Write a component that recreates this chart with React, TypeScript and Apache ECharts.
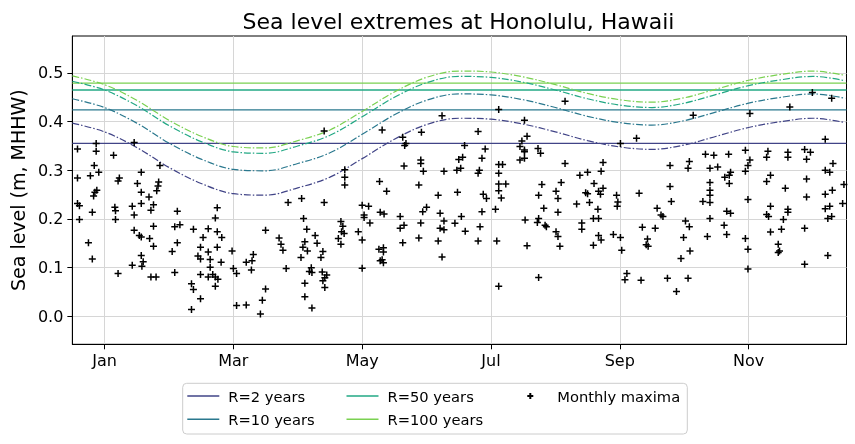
import { useEffect, useRef } from 'react';
import * as echarts from 'echarts';

// x is measured in months from mid-January (Jan tick = 0)
const monthLabels = ['Jan', 'Mar', 'May', 'Jul', 'Sep', 'Nov'];
const monthTicks = [0, 2, 4, 6, 8, 10];
const valueTicks = [0, 0.1, 0.2, 0.3, 0.4, 0.5];
const xExtent = [-0.5, 11.52];

const returnPeriods = ['R=2 years', 'R=10 years', 'R=50 years', 'R=100 years'];
const returnLevels = [0.3555, 0.424, 0.465, 0.479];

const curveX = [-0.5, 0, 0.5, 1, 1.5, 2, 2.5, 3, 3.5, 4, 4.5, 5, 5.5, 6, 6.5, 7, 7.5, 8, 8.5, 9, 9.5, 10, 10.5, 11, 11.5];
const seasonalR2 = [0.397, 0.379, 0.347, 0.306, 0.273, 0.252, 0.249, 0.264, 0.286, 0.324, 0.364, 0.394, 0.407, 0.405, 0.395, 0.379, 0.361, 0.348, 0.343, 0.352, 0.370, 0.388, 0.400, 0.407, 0.398];
const seasonalR10 = [0.447, 0.429, 0.397, 0.356, 0.323, 0.302, 0.299, 0.314, 0.336, 0.374, 0.414, 0.444, 0.457, 0.455, 0.445, 0.429, 0.411, 0.398, 0.393, 0.402, 0.420, 0.438, 0.450, 0.457, 0.448];
const seasonalR50 = [0.483, 0.465, 0.433, 0.392, 0.359, 0.338, 0.335, 0.350, 0.372, 0.410, 0.450, 0.480, 0.493, 0.491, 0.481, 0.465, 0.447, 0.434, 0.429, 0.438, 0.456, 0.474, 0.486, 0.493, 0.484];
const seasonalR100 = [0.494, 0.476, 0.444, 0.403, 0.370, 0.349, 0.346, 0.361, 0.383, 0.421, 0.461, 0.491, 0.504, 0.502, 0.492, 0.476, 0.458, 0.445, 0.440, 0.449, 0.467, 0.485, 0.497, 0.504, 0.495];

const monthlyMaxima: number[][] = [
  [-0.42,0.344],[-0.13,0.355],[-0.13,0.339],[0.14,0.331],[0.46,0.357],[-0.16,0.310],[-0.09,0.296],[-0.42,0.284],[-0.22,0.289],[0.23,0.284],[0.21,0.278],[0.57,0.296],[0.51,0.273],[0.84,0.276],[0.83,0.268],[0.81,0.258],[0.86,0.310],[-0.12,0.259],[-0.15,0.255],[-0.17,0.247],[0.57,0.255],[0.69,0.245],[-0.42,0.232],[-0.39,0.227],[-0.19,0.214],[-0.39,0.199],[0.16,0.224],[0.17,0.217],[0.17,0.199],[0.43,0.226],[0.46,0.208],[0.57,0.232],[0.76,0.229],[0.72,0.218],[0.76,0.185],[0.46,0.177],[0.54,0.166],[0.57,0.163],[0.70,0.160],[0.76,0.144],[-0.25,0.151],[-0.19,0.118],[0.21,0.088],[0.43,0.105],[0.58,0.103],[0.57,0.125],[0.60,0.112],[0.72,0.081],[0.80,0.081],[1.13,0.216],[1.17,0.188],[1.09,0.184],[1.13,0.151],[1.05,0.133],[1.09,0.090],[1.38,0.179],[1.53,0.162],[1.61,0.180],[1.75,0.223],[1.72,0.202],[1.75,0.174],[1.82,0.162],[1.75,0.142],[1.49,0.142],[1.45,0.124],[1.49,0.118],[1.61,0.132],[1.64,0.117],[1.81,0.111],[1.64,0.101],[1.49,0.086],[1.61,0.081],[1.68,0.086],[1.72,0.081],[1.76,0.076],[1.72,0.062],[1.35,0.067],[1.38,0.055],[1.49,0.036],[1.35,0.014],
  [3.41,0.381],[3.73,0.301],[3.73,0.286],[3.73,0.270],[2.85,0.234],[3.06,0.242],[3.41,0.234],[4.00,0.228],[4.10,0.226],[4.03,0.208],[4.03,0.203],[4.12,0.192],[4.27,0.277],[4.28,0.214],[3.09,0.201],[3.14,0.179],[2.50,0.177],[2.71,0.161],[2.74,0.148],[2.77,0.136],[3.11,0.153],[3.08,0.142],[3.15,0.134],[3.05,0.121],[3.27,0.166],[3.30,0.150],[3.39,0.133],[3.36,0.121],[3.67,0.195],[3.70,0.185],[3.68,0.174],[3.72,0.170],[3.63,0.160],[3.67,0.148],[3.94,0.174],[4.00,0.157],[4.26,0.138],[4.28,0.114],[1.98,0.134],[2.00,0.098],[2.05,0.088],[2.20,0.111],[2.29,0.114],[2.31,0.127],[2.28,0.095],[2.82,0.098],[3.21,0.100],[3.18,0.092],[3.22,0.090],[3.38,0.091],[3.45,0.085],[3.42,0.079],[3.39,0.073],[3.42,0.059],[3.11,0.068],[3.11,0.040],[3.22,0.017],[2.50,0.056],[2.45,0.033],[2.42,0.005],[2.05,0.022],[2.20,0.023],[4.00,0.099],
  [6.12,0.425],[5.24,0.412],[6.52,0.403],[4.31,0.383],[4.63,0.368],[4.92,0.378],[5.80,0.380],[4.66,0.351],[4.68,0.355],[5.59,0.351],[5.91,0.344],[6.56,0.370],[6.48,0.360],[6.45,0.349],[6.52,0.342],[6.52,0.338],[6.52,0.325],[6.45,0.321],[4.65,0.309],[4.91,0.321],[4.91,0.314],[4.95,0.298],[5.27,0.298],[5.50,0.322],[5.56,0.327],[5.53,0.304],[5.47,0.300],[5.86,0.325],[5.82,0.300],[5.80,0.294],[6.12,0.312],[6.18,0.312],[6.12,0.294],[6.12,0.272],[6.23,0.272],[6.12,0.258],[6.16,0.243],[4.38,0.257],[4.88,0.270],[5.18,0.249],[5.48,0.255],[5.88,0.251],[5.93,0.242],[4.34,0.210],[4.59,0.205],[4.94,0.215],[5.00,0.224],[5.21,0.212],[5.54,0.205],[5.86,0.215],[6.07,0.220],[4.65,0.187],[4.59,0.181],[4.91,0.192],[5.27,0.196],[5.21,0.181],[5.27,0.178],[5.44,0.191],[5.60,0.175],[5.83,0.184],[6.53,0.198],[4.88,0.161],[5.18,0.155],[4.63,0.151],[5.80,0.155],[6.09,0.155],[6.56,0.145],[4.33,0.141],[4.33,0.132],[4.31,0.116],[4.33,0.110],[5.24,0.122],[6.12,0.062],
  [7.15,0.442],[8.26,0.366],[8.01,0.355],[6.73,0.345],[6.77,0.335],[7.15,0.314],[7.74,0.316],[7.71,0.298],[7.50,0.296],[7.38,0.290],[8.78,0.310],[9.08,0.318],[9.06,0.304],[6.79,0.271],[7.09,0.275],[6.74,0.249],[7.01,0.257],[7.04,0.242],[7.60,0.273],[7.47,0.254],[7.50,0.252],[7.67,0.257],[7.70,0.251],[7.74,0.263],[7.53,0.234],[7.33,0.231],[7.95,0.249],[7.97,0.235],[7.96,0.226],[8.30,0.253],[8.78,0.267],[8.80,0.236],[6.82,0.222],[7.04,0.214],[7.66,0.220],[8.58,0.222],[8.64,0.208],[8.67,0.205],[6.74,0.201],[6.72,0.193],[6.84,0.187],[6.86,0.184],[7.41,0.192],[7.41,0.179],[7.59,0.201],[7.67,0.201],[7.01,0.174],[7.04,0.164],[7.07,0.144],[7.67,0.166],[7.71,0.157],[7.59,0.146],[7.90,0.168],[8.01,0.162],[8.03,0.136],[8.35,0.183],[8.55,0.181],[8.43,0.159],[8.41,0.147],[8.44,0.144],[9.02,0.196],[9.08,0.184],[8.99,0.162],[9.09,0.134],[8.95,0.119],[6.74,0.080],[8.11,0.088],[8.08,0.075],[8.33,0.074],[8.74,0.078],[9.06,0.078],[8.88,0.051],
  [9.14,0.413],[10.99,0.460],[11.29,0.448],[10.64,0.430],[10.02,0.417],[11.19,0.364],[9.33,0.333],[9.46,0.331],[9.69,0.333],[9.95,0.341],[10.02,0.321],[9.99,0.310],[9.95,0.298],[10.30,0.339],[10.28,0.327],[10.61,0.337],[10.61,0.327],[10.87,0.343],[10.96,0.337],[10.90,0.323],[11.31,0.314],[11.19,0.300],[11.26,0.296],[9.40,0.304],[9.52,0.307],[9.63,0.286],[9.70,0.290],[9.72,0.296],[9.70,0.273],[10.34,0.290],[10.28,0.277],[9.40,0.275],[9.40,0.259],[9.40,0.249],[9.29,0.236],[9.40,0.234],[9.66,0.216],[9.72,0.212],[9.99,0.240],[10.57,0.263],[10.90,0.282],[10.90,0.245],[11.19,0.251],[11.30,0.259],[11.48,0.271],[11.46,0.232],[10.34,0.226],[10.28,0.209],[10.31,0.205],[10.61,0.220],[10.61,0.214],[10.54,0.199],[11.19,0.221],[11.26,0.226],[11.23,0.201],[11.29,0.205],[9.40,0.201],[9.62,0.187],[9.66,0.168],[9.36,0.164],[9.95,0.160],[9.99,0.138],[10.34,0.173],[10.51,0.179],[10.46,0.148],[10.48,0.134],[10.46,0.131],[10.87,0.181],[11.23,0.125],[10.87,0.107],[9.99,0.097]
];

const levelColors = ['#414487', '#2a788e', '#22a884', '#7ad151'];
const FONT = 'DejaVu Sans';
const plusPath = 'path://M5,0L5,10M0,5L10,5';

export default function App() {
  const ref = useRef<HTMLDivElement>(null);
  useEffect(() => {
    if (!ref.current) return;
    const chart = echarts.init(ref.current, undefined, { renderer: 'svg' });
    const seasonal = [seasonalR2, seasonalR10, seasonalR50, seasonalR100];
    const series: any[] = [];
    returnPeriods.forEach((name, i) => {
      series.push({
        type: 'line',
        name,
        data: [[xExtent[0], returnLevels[i]], [xExtent[1], returnLevels[i]]],
        symbol: 'none',
        lineStyle: { color: levelColors[i], width: 1.3 },
        itemStyle: { color: levelColors[i] },
        z: 2,
        silent: true,
      });
    });
    returnPeriods.forEach((name, i) => {
      series.push({
        type: 'line',
        name: name + ' (seasonal)',
        data: curveX.map((x, k) => [x, seasonal[i][k]]),
        symbol: 'none',
        smooth: 0.35,
        lineStyle: { color: levelColors[i], width: 1.2, type: [7, 2, 1.5, 2] },
        itemStyle: { color: levelColors[i] },
        z: 2,
        silent: true,
      });
    });
    series.push({
      type: 'scatter',
      name: 'Monthly maxima',
      data: monthlyMaxima,
      symbol: plusPath,
      symbolSize: 7,
      itemStyle: { color: '#000', borderColor: '#000', borderWidth: 1.5, opacity: 1 },
      z: 5,
      silent: true,
    });

    const legendText = { fontSize: 14.7, fontFamily: FONT, color: '#000', padding: [0, 0, 0, 4], lineHeight: 16 };
    const lineLegend = (names: string[], left: number) => ({
      data: names.map((name) => ({ name, icon: 'rect' })),
      orient: 'vertical', left, top: 383, itemWidth: 32, itemHeight: 1.5, itemGap: 7.3,
      textStyle: legendText, selectedMode: false,
    });
    chart.setOption({
      animation: false,
      grid: { left: 71, right: 8.5, top: 36, bottom: 99.7, show: true, borderColor: '#000', borderWidth: 1, backgroundColor: 'transparent' },
      xAxis: {
        type: 'value',
        min: xExtent[0],
        max: xExtent[1],
        minInterval: 2,
        maxInterval: 2,
        axisLine: { show: true, onZero: false, lineStyle: { color: '#000', width: 1 } },
        axisTick: { show: true, length: 5, customValues: monthTicks, lineStyle: { color: '#000' } },
        axisLabel: {
          customValues: monthTicks,
          formatter: (v: number) => monthLabels[monthTicks.indexOf(Math.round(v))] ?? '',
          fontSize: 16, fontFamily: FONT, color: '#000', margin: 8,
        },
        splitLine: { show: true, lineStyle: { color: '#d6d6d6', width: 1 } },
      },
      yAxis: {
        type: 'value',
        min: -0.0575,
        max: 0.576,
        minInterval: 0.1,
        maxInterval: 0.1,
        axisLine: { show: true, onZero: false, lineStyle: { color: '#000', width: 1 } },
        axisTick: { show: true, length: 5, customValues: valueTicks, lineStyle: { color: '#000' } },
        axisLabel: {
          customValues: valueTicks,
          formatter: (v: number) => v.toFixed(1),
          fontSize: 16, fontFamily: FONT, color: '#000', margin: 9,
        },
        splitLine: { show: true, lineStyle: { color: '#d6d6d6', width: 1 } },
        name: 'Sea level (m, MHHW)',
        nameLocation: 'middle',
        nameGap: 44,
        nameTextStyle: { fontSize: 19, fontFamily: FONT, color: '#000' },
      },
      legend: [
        lineLegend(['R=2 years', 'R=10 years'], 182.3),
        lineLegend(['R=50 years', 'R=100 years'], 341.5),
        {
          data: [{ name: 'Monthly maxima', icon: plusPath }], orient: 'vertical', left: 521.3, top: 383,
          itemWidth: 32, itemHeight: 6, textStyle: { ...legendText, padding: [0, 0, 0, 6] }, selectedMode: false,
        },
      ],
      graphic: [
        { type: 'rect', z: 0, shape: { x: 182.7, y: 383.3, width: 504.6, height: 50.7, r: 4 }, style: { fill: 'rgba(255,255,255,0.8)', stroke: '#cccccc', lineWidth: 1 } },
        { type: 'text', x: 458.5, y: 21, style: { text: 'Sea level extremes at Honolulu, Hawaii', fontSize: 22, fontFamily: FONT, fill: '#000', align: 'center', verticalAlign: 'middle' } },
      ],
      series,
    });
    return () => chart.dispose();
  }, []);
  return <div ref={ref} style={{ position: 'fixed', left: 0, top: 0, width: 855, height: 444 }} />;
}
